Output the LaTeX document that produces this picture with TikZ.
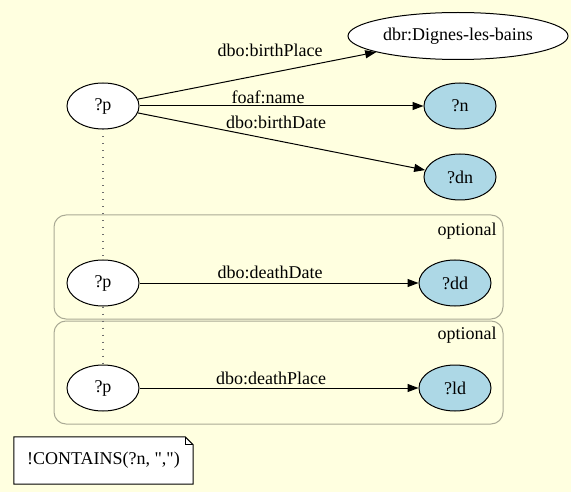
\documentclass[tikz,border=0pt]{standalone}
\usepackage{fontspec}
\setmainfont{Liberation Serif}[Ligatures=TeXOff]
\usepackage{tikz}
\usetikzlibrary{shapes.geometric, arrows.meta}
\definecolor{gvYellow}{RGB}{255, 255, 224}
\definecolor{gvBlue}{RGB}{173, 216, 230}
\definecolor{gvFrame}{RGB}{170, 170, 150}
\definecolor{gvDots}{RGB}{110, 110, 110}
\tikzset{
    base/.style={
        font=\fontsize{18}{20}\selectfont,
        align=center,
        inner sep=0pt
    },
    resource/.style={
        base,
        ellipse,
        draw=black,
        line width=1pt,
        fill=white,
        minimum width=72pt,
        minimum height=46pt
    },
    varnode/.style={
        resource,
        fill=gvBlue
    },
    flow/.style={
        -{Triangle[length=11pt, width=8pt]},
        line width=1pt,
        color=black
    },
    elabel/.style={
        base
    },
    group/.style={
        draw=gvFrame,
        line width=1pt,
        rounded corners=12pt
    },
    samenode/.style={
        dash pattern=on 1pt off 6pt,
        line width=1.2pt,
        color=gvDots
    },
    notebox/.style={
        base,
        fill=white,
        minimum width=179pt,
        minimum height=47pt
    }
}
\begin{document}
\begin{tikzpicture}[x=1pt, y=-1pt]
    % Background
    \fill[gvYellow] (0,0) rectangle (571,492);
    \useasboundingbox (0,0) rectangle (571,492);

    % Optional groups
    \draw[group] (54,215) rectangle (503,319);
    \node[elabel] (opt1) at (467,231) {optional};
    \draw[group] (54,321) rectangle (503,424);
    \node[elabel] (opt2) at (467,335) {optional};

    % Nodes
    \node[resource] (ptop) at (103,106) {?p};
    \node[resource, minimum width=220pt, minimum height=47pt] (dignes) at (458,36) {dbr:Dignes-les-bains};
    \node[varnode] (n) at (460,106) {?n};
    \node[varnode] (dn) at (460,177) {?dn};
    \node[resource] (pmid) at (103,283) {?p};
    \node[varnode] (dd) at (455,283) {?dd};
    \node[resource] (pbot) at (103,388) {?p};
    \node[varnode] (ld) at (455,388) {?ld};

    % Same subject
    \draw[samenode] (ptop) -- (pmid);
    \draw[samenode] (pmid) -- (pbot);

    % Edges
    \draw[flow] (ptop) -- (dignes);
    \draw[flow] (ptop) -- (n);
    \draw[flow] (ptop) -- (dn);
    \draw[flow] (pmid) -- (dd);
    \draw[flow] (pbot) -- (ld);

    % Edge labels
    \node[elabel] (lbplace) at (270,50) {dbo:birthPlace};
    \node[elabel] (lname) at (268,97) {foaf:name};
    \node[elabel] (lbdate) at (276,122) {dbo:birthDate};
    \node[elabel] (lddate) at (270,272) {dbo:deathDate};
    \node[elabel] (ldplace) at (271,378) {dbo:deathPlace};

    % Filter note
    \node[notebox] (filter) at (103.5,460.5) {!CONTAINS(?n, ",")};
    \fill[gvYellow] ([xshift=-8pt]filter.north east) -- (filter.north east) -- ([yshift=-8pt]filter.north east) -- cycle;
    \draw[line width=1pt] (filter.north west) -- ([xshift=-8pt]filter.north east)
        -- ([yshift=-8pt]filter.north east) -- (filter.south east) -- (filter.south west) -- cycle;
    \draw[line width=1pt] ([xshift=-8pt]filter.north east) -- ([xshift=-8pt, yshift=-8pt]filter.north east)
        -- ([yshift=-8pt]filter.north east);
\end{tikzpicture}
\end{document}
